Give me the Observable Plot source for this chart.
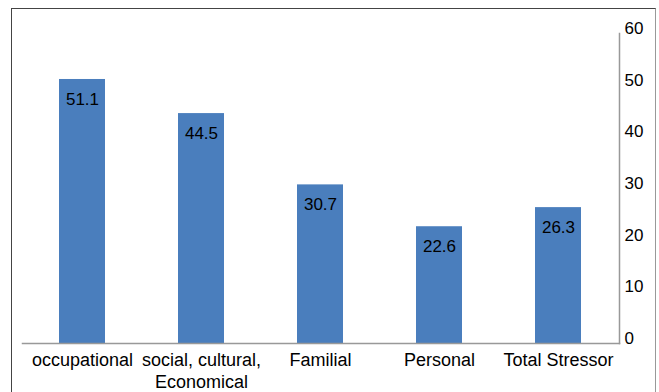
<!DOCTYPE html>
<html>
<head>
<meta charset="utf-8">
<script src="https://cdn.jsdelivr.net/npm/d3@7"></script>
<script src="https://cdn.jsdelivr.net/npm/@observablehq/plot@0.6"></script>
<style>
  html, body { margin: 0; padding: 0; background: #fff; }
  #wrap { position: relative; width: 659px; height: 392px; overflow: hidden; }
  #border { position: absolute; left: 11px; top: 8px; width: 643px; height: 400px;
    border-left: 1px solid #444; border-top: 1px solid #444; border-right: 1px solid #999;
    pointer-events: none; }
</style>
</head>
<body>
<div id="wrap"><div id="border"></div></div>
<script>
const categories = ["occupational", "social, cultural,\nEconomical", "Familial", "Personal", "Total Stressor"];
const values = [51.1, 44.5, 30.7, 22.6, 26.3];
const yTicks = [0, 10, 20, 30, 40, 50, 60];

const data = categories.map((c, i) => ({category: c, value: values[i]}));
const font = "'Liberation Sans', Arial, sans-serif";

const chart = Plot.plot({
  width: 659,
  height: 392,
  marginLeft: 22,
  marginRight: 40,
  marginTop: 33,
  marginBottom: 49,
  style: {fontFamily: font, fontSize: "17px", color: "#000", background: "transparent"},
  x: {domain: categories, paddingInner: 0.61, paddingOuter: 0.305, label: null},
  y: {domain: [0, 60], label: null},
  marks: [
    Plot.barY(data, {x: "category", y: "value", fill: "#4A7EBD"}),
    Plot.text(data, {x: "category", y: "value", text: d => d.value.toFixed(1), dy: 20, fontSize: 17, fill: "#000"}),
    Plot.frame({anchor: "bottom", stroke: "#999", strokeWidth: 1.5}),
    Plot.frame({anchor: "right", stroke: "#999", strokeWidth: 1.5}),
    Plot.axisY({anchor: "right", ticks: yTicks, tickSize: 0, tickPadding: 5, dy: -5, fontSize: 17, label: null}),
    Plot.axisX({anchor: "bottom", tickSize: 0, tickPadding: 7, fontSize: 18, lineHeight: 1.22, label: null})
  ]
});
document.getElementById("wrap").prepend(chart);
</script>
</body>
</html>
